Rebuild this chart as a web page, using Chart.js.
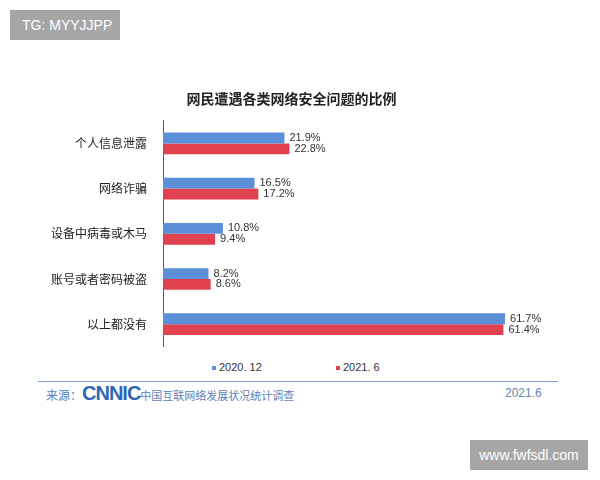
<!DOCTYPE html><html><head><meta charset="utf-8">
<script src="https://cdn.jsdelivr.net/npm/chart.js@4"></script>
<style>
body{margin:0;width:600px;height:480px;background:#fff;position:relative;font-family:"Noto Sans CJK SC",sans-serif;overflow:hidden}
#wrap{position:absolute;left:40px;top:90px;width:520px;height:272px}
.tag{position:absolute;background:#a6a6a6;color:#fff;font-family:"Liberation Sans",sans-serif;font-size:14px}
.lg{position:absolute;top:361px;font-size:11px;font-family:'Liberation Sans';color:#333}
.lg i{display:inline-block;width:4px;height:4px;margin-right:3px;vertical-align:middle}
</style></head><body>
<div class="tag" style="left:10px;top:10px;width:110px;height:30px;line-height:30px;padding-left:12px;box-sizing:border-box">TG: MYYJJPP</div>
<div class="tag" style="left:470px;top:440px;width:118px;height:30px;line-height:30px;text-align:center">www.fwfsdl.com</div>
<div class="lg" style="left:212px"><i style="background:#5b8fd8"></i>2020. 12</div>
<div class="lg" style="left:336px"><i style="background:#e0414e"></i>2021. 6</div>
<div style="position:absolute;left:38px;top:381px;width:520px;border-top:1.5px solid #7f9bc7"></div>
<div style="position:absolute;left:46px;top:383px;font-size:12px;color:#5a7fb8;line-height:20px">来源：<b style="font-family:'Liberation Sans';font-size:20px;color:#2f67b5;letter-spacing:-1px">CNNIC</b><span style="font-size:11px">中国互联网络发展状况统计调查</span></div>
<div style="position:absolute;left:505px;top:386px;font-size:12px;color:#6b84ad;font-family:'Liberation Sans'">2021.6</div>
<div id="wrap"><canvas id="c"></canvas></div>
<script>
const categories=["个人信息泄露","网络诈骗","设备中病毒或木马","账号或者密码被盗","以上都没有"];
const s2020=[21.9,16.5,10.8,8.2,61.7];
const s2021=[22.8,17.2,9.4,8.6,61.4];
const labelsPlugin={id:'vl',afterDatasetsDraw(ch){const c=ch.ctx;c.save();c.font='11px "Liberation Sans"';c.fillStyle='#333';c.textBaseline='middle';
ch.data.datasets.forEach((d,i)=>{ch.getDatasetMeta(i).data.forEach((b,j)=>{c.fillText(d.data[j].toFixed(1)+'%',b.x+5,b.y);});});c.restore();}};
new Chart(document.getElementById('c'),{type:'bar',data:{labels:categories,datasets:[
{label:'2020. 12',data:s2020,backgroundColor:'#5b8fd8',borderWidth:0},
{label:'2021. 6',data:s2021,backgroundColor:'#e0414e',borderWidth:0}]},
plugins:[labelsPlugin],
options:{indexAxis:'y',responsive:true,maintainAspectRatio:false,animation:false,
layout:{padding:{right:20,left:3,bottom:12}},
categoryPercentage:0.48,barPercentage:1,
plugins:{title:{display:true,text:'网民遭遇各类网络安全问题的比例',font:{size:14,weight:'bold',family:'Noto Sans CJK SC'},color:'#222',padding:{top:0,bottom:14}},
legend:{display:false},tooltip:{enabled:false}},
scales:{x:{min:0,max:68,display:false},
y:{grid:{display:false},border:{color:'#555'},ticks:{font:{size:12,family:'Noto Sans CJK SC'},color:'#222',padding:8}}}}});
</script></body></html>
